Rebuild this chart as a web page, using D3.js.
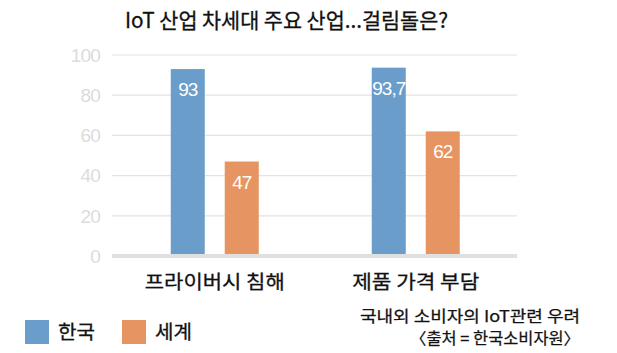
<!DOCTYPE html>
<html><head><meta charset="utf-8">
<script src="https://cdn.jsdelivr.net/npm/d3@7"></script>
<style>body{margin:0;background:#fff}svg{display:block}</style>
</head><body>
<script>
const categories = ["프라이버시 침해", "제품 가격 부담"];
const seriesNames = ["한국", "세계"];
const korea = [93, 93.7];
const world = [47, 62];
const valueLabels = [["93", "47"], ["93,7", "62"]];
const yTicks = [0, 20, 40, 60, 80, 100];
const colors = ["#6b9dca", "#e69461"];
const title = "IoT 산업 차세대 주요 산업...걸림돌은?";
const note1 = "국내외 소비자의 IoT관련 우려";
const note2 = "〈출처 = 한국소비자원〉";

const W = 617, H = 353;
const svg = d3.select("body").append("svg").attr("width", W).attr("height", H);
const kfont = "'Noto Sans CJK KR', 'Noto Sans', sans-serif";
const nfont = "'Liberation Sans', Arial, sans-serif";

const y = d3.scaleLinear().domain([0, 100]).range([256, 55]);
const x = d3.scaleBand().domain(categories).range([112, 517]);
const xi = d3.scaleBand().domain(seriesNames).range([-44, 44]).paddingInner(0.37);

// grid
svg.append("g").selectAll("line").data(yTicks.filter(d => d > 0)).join("line")
  .attr("x1", 112).attr("x2", 517)
  .attr("y1", d => y(d)).attr("y2", d => y(d))
  .attr("stroke", "#e3e3e3").attr("stroke-width", 1.2);

// y labels
svg.append("g").selectAll("text").data(yTicks).join("text")
  .attr("x", 100).attr("y", d => y(d)).attr("dy", "0.36em")
  .attr("text-anchor", "end").attr("font-family", nfont).attr("font-size", 19)
  .attr("letter-spacing", -0.8)
  .attr("fill", "#dcdcdc").text(d => d);

// bars
const data = categories.map((c, i) => ({c, vals: [korea[i], world[i]], labels: valueLabels[i]}));
const g = svg.append("g").selectAll("g").data(data).join("g")
  .attr("transform", d => `translate(${x(d.c) + x.bandwidth() / 2 + (d.c === categories[0] ? 1.5 : 0)},0)`);
g.selectAll("rect").data(d => d.vals.map((v, j) => ({v, s: seriesNames[j], j}))).join("rect")
  .attr("x", d => xi(d.s)).attr("width", xi.bandwidth())
  .attr("y", d => y(d.v)).attr("height", d => 257 - y(d.v))
  .attr("fill", d => colors[d.j]);
g.selectAll("text.val").data(d => d.vals.map((v, j) => ({v, s: seriesNames[j], l: d.labels[j]}))).join("text")
  .attr("class", "val")
  .attr("x", d => xi(d.s) + xi.bandwidth() / 2).attr("y", d => y(d.v) + 27)
  .attr("text-anchor", "middle").attr("font-family", nfont).attr("font-size", 19)
  .attr("letter-spacing", -1)
  .attr("fill", "#fff").text(d => d.l);

// baseline
svg.append("line").attr("x1", 112).attr("x2", 517).attr("y1", y(0)).attr("y2", y(0))
  .attr("stroke", "#e0e0e0").attr("stroke-width", 4);

// category labels
svg.append("g").selectAll("text").data(categories).join("text")
  .attr("x", (d, i) => x(d) + x.bandwidth() / 2 + (i === 0 ? 1.5 : 0)).attr("y", 289)
  .attr("text-anchor", "middle").attr("font-family", kfont).attr("font-size", 19)
  .attr("textLength", (d, i) => i === 0 ? 140 : 127).attr("lengthAdjust", "spacingAndGlyphs")
  .attr("fill", "#111").attr("stroke", "#111").attr("stroke-width", 0.3).text(d => d);

// title
svg.append("text").attr("x", 125).attr("y", 28).attr("font-family", kfont).attr("font-size", 21)
  .attr("textLength", 323).attr("lengthAdjust", "spacingAndGlyphs")
  .attr("fill", "#111").attr("stroke", "#111").attr("stroke-width", 0.3).text(title);

// legend
const lg = svg.append("g").selectAll("g").data(seriesNames).join("g")
  .attr("transform", (d, i) => `translate(${25 + i * 97},320)`);
lg.append("rect").attr("width", 24).attr("height", 24).attr("fill", (d, i) => colors[i]);
lg.append("text").attr("x", 33).attr("y", 19).attr("font-family", kfont).attr("font-size", 19)
  .attr("textLength", 37).attr("lengthAdjust", "spacingAndGlyphs")
  .attr("fill", "#111").attr("stroke", "#111").attr("stroke-width", 0.3).text(d => d);

// notes
svg.append("text").attr("x", 580).attr("y", 322).attr("text-anchor", "end")
  .attr("font-family", kfont).attr("font-size", 16)
  .attr("textLength", 220).attr("lengthAdjust", "spacingAndGlyphs")
  .attr("fill", "#111").attr("stroke", "#111").attr("stroke-width", 0.25).text(note1);
svg.append("text").attr("x", 580).attr("y", 344).attr("text-anchor", "end")
  .attr("font-family", kfont).attr("font-size", 16)
  .attr("textLength", 170).attr("lengthAdjust", "spacingAndGlyphs")
  .attr("fill", "#111").attr("stroke", "#111").attr("stroke-width", 0.25).text(note2);
</script>
</body></html>
